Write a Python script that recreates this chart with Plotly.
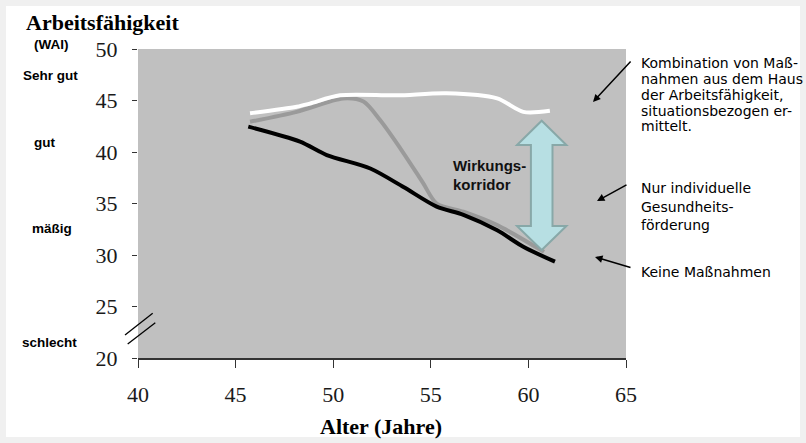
import plotly.graph_objects as go

# ---------------- data ----------------
age_none = [45.65, 48.3, 49.67, 51.9, 53.6, 55.3, 56.67, 58.4, 59.74, 61.36]
wai_none = [42.46, 41.0, 39.7, 38.4, 36.6, 34.7, 33.9, 32.4, 30.8, 29.35]

age_ind = [45.74, 48.13, 50.5, 51.55, 52.4, 53.6, 54.6, 55.3, 56.67, 58.4, 60.8]
wai_ind = [42.94, 43.9, 45.2, 44.9, 43.1, 39.9, 37.0, 35.0, 34.2, 32.9, 30.3]

age_comb = [45.74, 48.13, 48.8, 50.35, 53.25, 55.8, 58.4, 59.74, 61.1]
wai_comb = [43.76, 44.4, 44.7, 45.5, 45.5, 45.7, 45.2, 43.9, 44.0]

x_ticks = [40, 45, 50, 55, 60, 65]
y_ticks = [20, 25, 30, 35, 40, 45, 50]

category_labels = ["(WAI)", "Sehr gut", "gut", "mäßig", "schlecht"]
right_block1 = ["Kombination von Maß-", "nahmen aus dem Haus", "der Arbeitsfähigkeit,",
                "situationsbezogen er-", "mittelt."]
right_block2 = ["Nur individuelle", "Gesundheits-", "förderung"]
right_block3 = ["Keine Maßnahmen"]

# ---------------- layout geometry (pixels) ----------------
W, H = 806, 443
L, R, T, B = 138, 626, 49, 358


def px(p):
    return (p - L) / (R - L)


def py(p):
    return (B - p) / (B - T)


fig = go.Figure()
fig.add_trace(go.Scatter(x=age_ind, y=wai_ind, mode="lines",
                         line=dict(color="#9a9a9a", width=4, shape="spline", smoothing=0.8),
                         hoverinfo="skip", showlegend=False))
fig.add_trace(go.Scatter(x=age_none, y=wai_none, mode="lines",
                         line=dict(color="#000000", width=4, shape="spline", smoothing=0.8),
                         hoverinfo="skip", showlegend=False))
fig.add_trace(go.Scatter(x=age_comb, y=wai_comb, mode="lines",
                         line=dict(color="#ffffff", width=4, shape="spline", smoothing=0.8),
                         hoverinfo="skip", showlegend=False))

shapes = []
# outer light border
bc = "#f0f0f0"
bw = 6
for (x0, y0, x1, y1) in [(0, 0, W, bw), (0, H - bw, W, H), (0, 0, bw, H), (W - bw, 0, W, H)]:
    shapes.append(dict(type="rect", xref="paper", yref="paper",
                       x0=px(x0), x1=px(x1), y0=py(y0), y1=py(y1),
                       fillcolor=bc, line=dict(width=0), layer="below"))

# axis break marks
for (a, b, c, d) in [(125, 335, 152.7, 313.3), (127.7, 344, 155.3, 322.7)]:
    shapes.append(dict(type="line", xref="paper", yref="paper",
                       x0=px(a), y0=py(b), x1=px(c), y1=py(d),
                       line=dict(color="#000000", width=1.3)))

# double arrow (Wirkungskorridor)
cx, top, hb1, hb2, bot = 541.7, 120.7, 145, 226, 250
hw, sw = 24.7, 10.8
pts = [(cx, top), (cx + hw, hb1), (cx + sw, hb1), (cx + sw, hb2), (cx + hw, hb2),
       (cx, bot), (cx - hw, hb2), (cx - sw, hb2), (cx - sw, hb1), (cx - hw, hb1)]
path = "M " + " L ".join(f"{px(a):.5f},{py(b):.5f}" for a, b in pts) + " Z"
shapes.append(dict(type="path", xref="paper", yref="paper", path=path,
                   fillcolor="#b7dfe3", line=dict(color="#88a8a8", width=2)))

annotations = []
# title
annotations.append(dict(text="<b>Arbeitsfähigkeit</b>", xref="paper", yref="paper",
                        x=px(24), y=py(22), xanchor="left", yanchor="middle", showarrow=False,
                        font=dict(family="Liberation Serif", size=22, color="#000000")))
annotations.append(dict(text="<b>Alter (Jahre)</b>", xref="paper", yref="paper",
                        x=px(381), y=py(427), xanchor="center", yanchor="middle", showarrow=False,
                        font=dict(family="Liberation Serif", size=22, color="#000000")))

# left category labels
cat_pos = [(51, 45), (50, 75), (44, 142), (52, 228), (49, 342)]
for lab, (a, b) in zip(category_labels, cat_pos):
    annotations.append(dict(text=f"<b>{lab}</b>", xref="paper", yref="paper",
                            x=px(a), y=py(b), xanchor="center", yanchor="middle", showarrow=False,
                            font=dict(family="Liberation Sans", size=13.5, color="#000000")))

# Wirkungskorridor text
for lab, b in zip(["Wirkungs-", "korridor"], [165, 184]):
    annotations.append(dict(text=f"<b>{lab}</b>", xref="paper", yref="paper",
                            x=px(451), y=py(b), xanchor="left", yanchor="middle", showarrow=False,
                            font=dict(family="Liberation Sans", size=15, color="#111111")))

# right-hand text blocks
rfont = dict(family="DejaVu Sans", size=14, color="#000000")
for lab, b in zip(right_block1, [63.3, 79.3, 95, 110.7, 126]):
    annotations.append(dict(text=lab, xref="paper", yref="paper", x=px(639), y=py(b),
                            xanchor="left", yanchor="middle", showarrow=False, font=rfont))
for lab, b in zip(right_block2, [188.3, 207, 225]):
    annotations.append(dict(text=lab, xref="paper", yref="paper", x=px(639), y=py(b),
                            xanchor="left", yanchor="middle", showarrow=False, font=rfont))
for lab, b in zip(right_block3, [271.7]):
    annotations.append(dict(text=lab, xref="paper", yref="paper", x=px(639), y=py(b),
                            xanchor="left", yanchor="middle", showarrow=False, font=rfont))

# pointer arrows
for (hx, hy, tx, ty) in [(593, 102, 632, 60), (597, 201, 628, 184), (595, 257, 632, 268)]:
    annotations.append(dict(text="", xref="paper", yref="paper", x=px(hx), y=py(hy),
                            ax=tx - hx, ay=ty - hy, showarrow=True, arrowhead=2,
                            arrowsize=1, arrowwidth=1.5, arrowcolor="#000000", standoff=0))

fig.update_layout(
    width=W, height=H,
    margin=dict(l=L, r=W - R, t=T, b=H - B, pad=0),
    paper_bgcolor="#ffffff",
    plot_bgcolor="#c0c0c0",
    shapes=shapes,
    annotations=annotations,
    xaxis=dict(range=[40, 65], tickvals=x_ticks, ticktext=[str(v) for v in x_ticks],
               showgrid=False, zeroline=False, showline=True, linecolor="#333333", linewidth=2,
               ticks="outside", ticklen=8, tickwidth=1.3, tickcolor="#333333",
               ticklabelstandoff=8,
               tickfont=dict(family="Liberation Serif", size=22, color="#1a1a1a"),
               fixedrange=True),
    yaxis=dict(range=[20, 50], tickvals=y_ticks, ticktext=[str(v) for v in y_ticks],
               showgrid=False, zeroline=False, showline=False,
               ticks="outside", ticklen=5, tickwidth=1.3, tickcolor="#333333",
               ticklabelstandoff=10,
               tickfont=dict(family="Liberation Serif", size=22, color="#1a1a1a"),
               fixedrange=True),
    showlegend=False,
)

fig.write_html("out.html", config={"displayModeBar": False})
